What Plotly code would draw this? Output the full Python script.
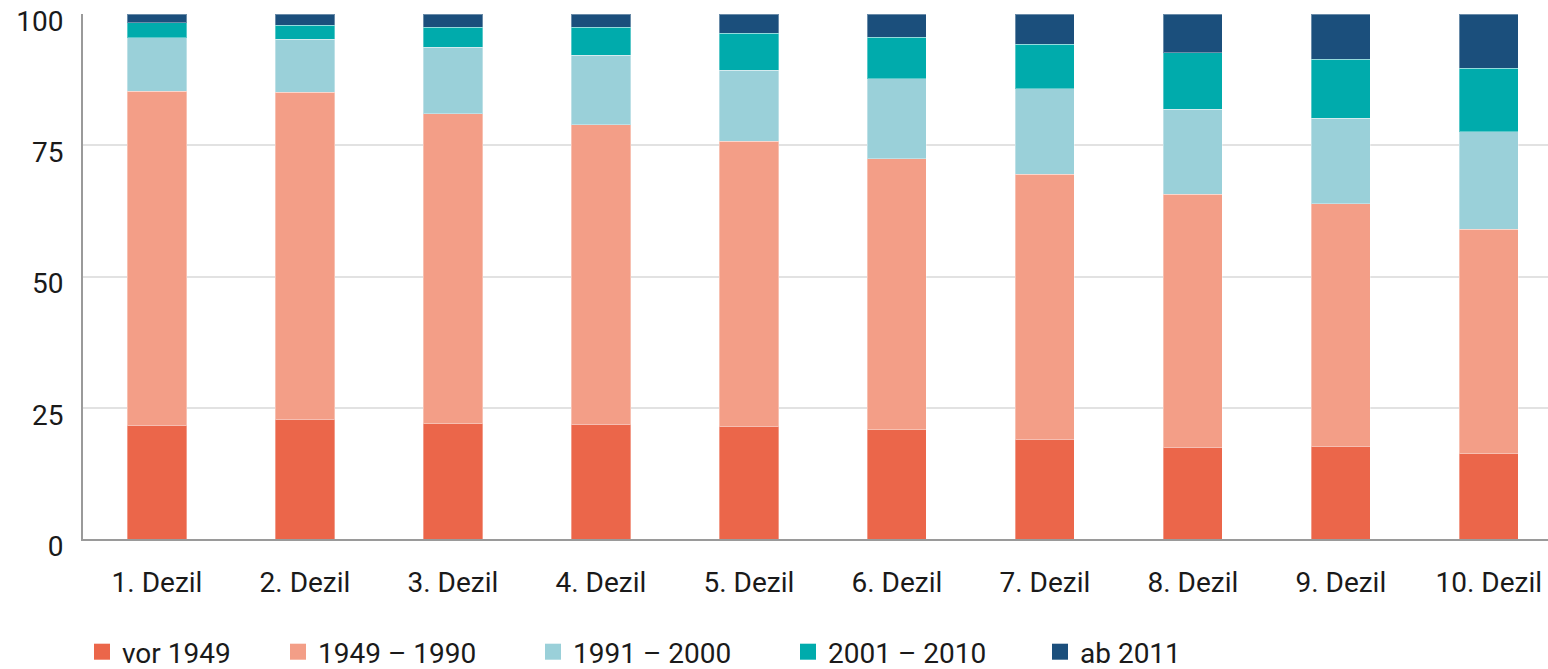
import plotly.graph_objects as go

categories = ["1. Dezil", "2. Dezil", "3. Dezil", "4. Dezil", "5. Dezil",
              "6. Dezil", "7. Dezil", "8. Dezil", "9. Dezil", "10. Dezil"]
series_names = ["vor 1949", "1949 – 1990", "1991 – 2000", "2001 – 2010", "ab 2011"]
vor_1949 = [21.7, 22.8, 22.0, 21.9, 21.5, 20.8, 19.0, 17.5, 17.7, 16.2]
y1949_1990 = [63.6, 62.3, 59.0, 57.0, 54.3, 51.6, 50.5, 48.2, 46.2, 42.8]
y1991_2000 = [10.2, 10.1, 12.7, 13.2, 13.5, 15.3, 16.3, 16.2, 16.2, 18.6]
y2001_2010 = [2.8, 2.7, 3.8, 5.4, 7.0, 7.9, 8.4, 10.7, 11.3, 12.1]
ab_2011 = [1.7, 2.1, 2.5, 2.5, 3.7, 4.4, 5.8, 7.4, 8.6, 10.3]
y_ticks = [0, 25, 50, 75, 100]

colors = ["#EB664A", "#F39E87", "#9AD0D9", "#00ABAC", "#1B4F7C"]
values = [vor_1949, y1949_1990, y1991_2000, y2001_2010, ab_2011]
legend_ids = ["legend", "legend2", "legend3", "legend4", "legend5"]
legend_text_x = [122, 318, 573, 828, 1080]

W, H = 1548, 669
FONT = "Roboto"
fig = go.Figure()
for name, vals, col in zip(series_names, values, colors):
    fig.add_trace(go.Bar(
        x=categories, y=vals, name=name, showlegend=False,
        marker=dict(color=col, line=dict(color="rgba(255,255,255,0.35)", width=1)),
    ))
for name, col, lid in zip(series_names, colors, legend_ids):
    fig.add_trace(go.Scatter(
        x=[None], y=[None], mode="markers", name=name, legend=lid,
        marker=dict(symbol="square", size=16, color=col),
    ))

legend_common = dict(orientation="h", xref="container", yref="container",
                     xanchor="left", yanchor="middle", y=1 - 652 / H,
                     font=dict(family=FONT, size=28, color="#1a1a1a"),
                     itemclick=False, bgcolor="rgba(0,0,0,0)")
legends = {}
for lid, tx in zip(legend_ids, legend_text_x):
    legends[lid] = dict(legend_common, x=(tx - 40) / W)

fig.update_layout(
    barmode="stack",
    bargap=0.6,
    width=W, height=H,
    margin=dict(l=83, r=0, t=14, b=130, autoexpand=False),
    paper_bgcolor="white", plot_bgcolor="white",
    font=dict(family=FONT, size=28, color="#1a1a1a"),
    showlegend=True,
    xaxis=dict(range=[-0.5, 9.4], showline=True, linecolor="#9a9a9a", linewidth=2,
               ticks="", ticklabelstandoff=17, showgrid=False, automargin=False,
               ticklabeloverflow="allow"),
    yaxis=dict(range=[0, 100], tickvals=y_ticks, showline=True, linecolor="#9a9a9a",
               linewidth=2, gridcolor="#e2e2e2", gridwidth=2, ticks="", automargin=False,
               ticklabelstandoff=12, ticklabelshift=7, zeroline=False,
               ticklabeloverflow="allow"),
    **legends,
)

fig.write_html(
    "out.html",
    config={"displayModeBar": False},
    post_script="document.body.style.margin='0';document.body.style.overflow='hidden';",
)
